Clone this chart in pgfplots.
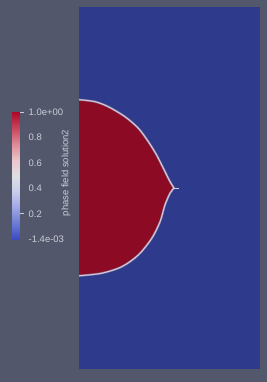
\documentclass[border=0pt]{standalone}
\usepackage{pgfplots}
\pgfplotsset{compat=1.18}
\usepackage{fontspec}
\setmainfont{Liberation Sans}
\definecolor{bg}{RGB}{82,87,108}
\definecolor{dblue}{RGB}{46,58,140}
\definecolor{dred}{RGB}{140,10,35}
\definecolor{txt}{RGB}{205,205,214}
\definecolor{edgeA}{RGB}{150,130,170}
\definecolor{edgeB}{RGB}{215,210,220}
\pgfplotsset{colormap={coolwarm}{rgb255=(59,76,192) rgb255=(108,124,212) rgb255=(158,168,228) rgb255=(200,204,236) rgb255=(222,222,226) rgb255=(236,196,204) rgb255=(222,138,152) rgb255=(200,70,92) rgb255=(176,6,40)}}
\begin{document}
\begin{tikzpicture}
\useasboundingbox (0,0) rectangle (267bp,382bp);
\fill[bg] (0,0) rectangle (267bp,382bp);
% domain
\begin{axis}[at={(79bp,13bp)}, anchor=south west, scale only axis,
  width=181bp, height=362bp, xmin=0, xmax=1, ymin=0, ymax=2, hide axis]
\addplot[fill=dblue, draw=none] coordinates {(0,0) (1,0) (1,2) (0,2)};
\addplot[fill=dred, draw=none] coordinates {
(0,1.488) (0.088,1.477) (0.162,1.449) (0.254,1.394) (0.328,1.330)
(0.383,1.256) (0.429,1.182) (0.466,1.109) (0.503,1.035) (0.525,1.000)
(0.503,0.971) (0.475,0.906) (0.448,0.814) (0.402,0.722) (0.328,0.630)
(0.236,0.565) (0.125,0.529) (0,0.515)};
% upper interface
\addplot[draw=edgeA, line width=2bp, smooth, tension=0.5] coordinates {
(0,1.488) (0.088,1.477) (0.162,1.449) (0.254,1.394) (0.328,1.330)
(0.383,1.256) (0.429,1.182) (0.466,1.109) (0.503,1.035) (0.525,1.000)};
\addplot[draw=edgeA, line width=2bp, smooth, tension=0.5] coordinates {
(0.525,1.000) (0.503,0.971) (0.475,0.906) (0.448,0.814) (0.402,0.722) (0.328,0.630)
(0.236,0.565) (0.125,0.529) (0,0.515)};
\addplot[draw=edgeB, line width=0.8bp, smooth, tension=0.5] coordinates {
(0,1.488) (0.088,1.477) (0.162,1.449) (0.254,1.394) (0.328,1.330)
(0.383,1.256) (0.429,1.182) (0.466,1.109) (0.503,1.035) (0.525,1.000)};
\addplot[draw=edgeB, line width=0.8bp, smooth, tension=0.5] coordinates {
(0.525,1.000) (0.503,0.971) (0.475,0.906) (0.448,0.814) (0.402,0.722) (0.328,0.630)
(0.236,0.565) (0.125,0.529) (0,0.515)};
\addplot[draw=edgeB, line width=0.5bp] coordinates {(0.525,1.0) (0.553,1.0)};
\end{axis}
% colour bar
\begin{axis}[at={(12.3bp,142.7bp)}, anchor=south west, scale only axis,
  width=7.7bp, height=127bp, xmin=0, xmax=1, ymin=-0.0014, ymax=1,
  colormap name=coolwarm, point meta min=-0.0014, point meta max=1,
  axis line style={draw=none}, xtick=\empty,
  ytick={1,0.8,0.6,0.4,0.2,-0.0014},
  yticklabels={1.0e+00,0.8,0.6,0.4,0.2,-1.4e-03},
  ytick pos=right, yticklabel pos=right, major tick length=0pt,
  yticklabel style={anchor=west, inner sep=0pt, xshift=8.5bp,
    font=\fontsize{9.5}{10}\selectfont, text=txt},
  extra y ticks={1,0.2}, extra y tick labels={},
  extra y tick style={major tick length=4bp, tick align=outside,
    tick style={draw=txt, line width=0.6bp}}]
\addplot[surf, shader=interp, mesh/cols=2, point meta=y] coordinates {
(0,-0.0014) (1,-0.0014)
(0,0.125) (1,0.125)
(0,0.25) (1,0.25)
(0,0.375) (1,0.375)
(0,0.5) (1,0.5)
(0,0.625) (1,0.625)
(0,0.75) (1,0.75)
(0,0.875) (1,0.875)
(0,1) (1,1)};
\end{axis}
\node[rotate=90, text=txt, font=\fontsize{9.5}{10}\selectfont, inner sep=0pt] at (66bp,209bp) {phase field solution2};
\end{tikzpicture}
\end{document}
